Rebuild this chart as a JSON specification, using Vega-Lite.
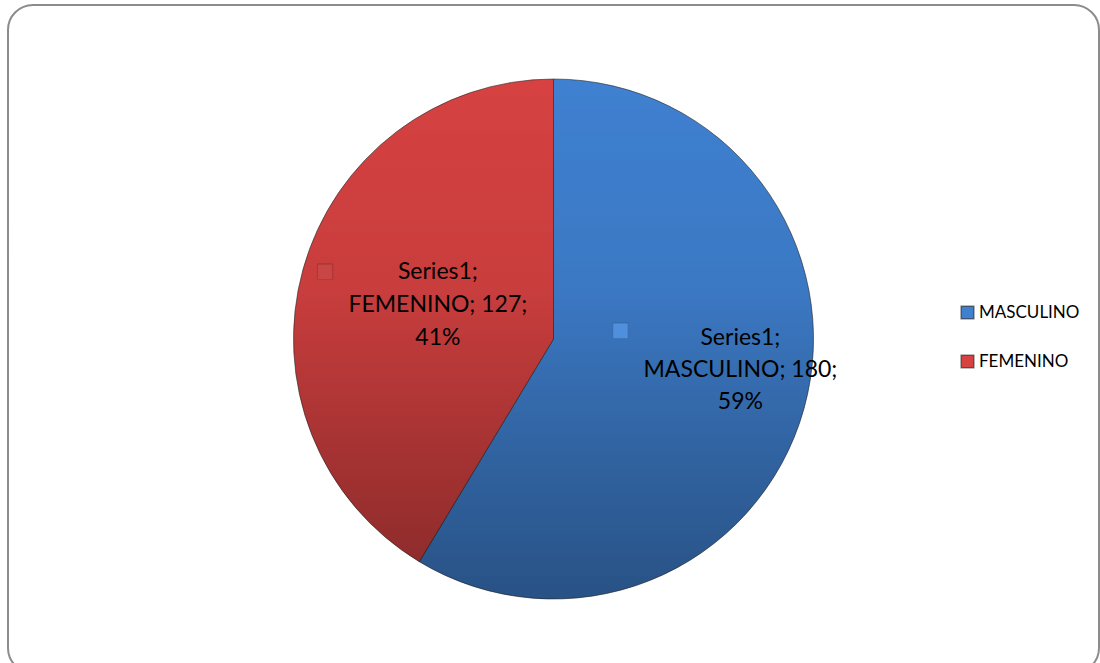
{
  "$schema": "https://vega.github.io/schema/vega-lite/v6.json",
  "autosize": {"type": "fit", "contains": "padding"},
  "width": 1100,
  "height": 673,
  "padding": {"left": 8, "top": 5, "right": 1, "bottom": 0},
  "background": "#ffffff",
  "view": {"stroke": "#8c8c8c", "strokeWidth": 2, "cornerRadius": 25, "fill": "#ffffff"},
  "config": {
    "view": {"stroke": "#8c8c8c", "strokeWidth": 2, "cornerRadius": 25},
    "font": "Lato"
  },
  "data": {
    "values": [
      {"series": "Series1", "gender": "MASCULINO", "value": 180, "label": ["Series1;", "MASCULINO; 180;", "59%"]},
      {"series": "Series1", "gender": "FEMENINO", "value": 127, "label": ["Series1;", "FEMENINO; 127;", "41%"]}
    ]
  },
  "layer": [
    {
      "mark": {"type": "arc", "outerRadius": 260, "stroke": "rgba(40,40,40,0.6)", "strokeWidth": 1},
      "encoding": {
        "theta": {"field": "value", "type": "quantitative", "stack": true},
        "order": {"field": "value", "type": "quantitative", "sort": "descending"},
        "color": {
          "field": "gender", "type": "nominal",
          "scale": {"domain": ["MASCULINO", "FEMENINO"], "range": ["#3f80d0", "#d64141"]},
          "legend": {
            "orient": "none", "legendX": 951, "legendY": 299, "title": null,
            "labelFont": "Lato", "labelFontSize": 17, "labelColor": "#000000",
            "symbolType": "square", "symbolSize": 160, "rowPadding": 30, "labelOffset": 3
          }
        }
      }
    },
    {
      "mark": {
        "type": "arc", "theta": 0, "theta2": 6.2832, "outerRadius": 260,
        "fill": {
          "gradient": "linear", "x1": 0, "y1": 0, "x2": 0, "y2": 1,
          "stops": [
            {"offset": 0, "color": "rgba(0,0,0,0)"},
            {"offset": 0.4, "color": "rgba(0,0,0,0.03)"},
            {"offset": 1, "color": "rgba(0,0,0,0.2)"}
          ]
        }
      },
      "encoding": {}
    },
    {
      "mark": {"type": "text", "radius": 194, "dy": -53, "fontSize": 23, "font": "Lato", "lineHeight": 32, "align": "center", "baseline": "middle", "color": "#000000"},
      "encoding": {
        "theta": {"field": "value", "type": "quantitative", "stack": true},
        "order": {"field": "value", "type": "quantitative", "sort": "descending"},
        "detail": {"field": "gender", "type": "nominal"},
        "text": {"field": "label"},
        "opacity": {"condition": {"test": "datum.gender === 'MASCULINO'", "value": 1}, "value": 0}
      }
    },
    {
      "mark": {"type": "text", "radius": 120, "dy": -35, "fontSize": 23, "font": "Lato", "lineHeight": 33, "align": "center", "baseline": "middle", "color": "#000000"},
      "encoding": {
        "theta": {"field": "value", "type": "quantitative", "stack": true},
        "order": {"field": "value", "type": "quantitative", "sort": "descending"},
        "detail": {"field": "gender", "type": "nominal"},
        "text": {"field": "label"},
        "opacity": {"condition": {"test": "datum.gender === 'FEMENINO'", "value": 1}, "value": 0}
      }
    },
    {
      "mark": {"type": "text", "radius": 194, "dx": -120, "dy": -61, "fontSize": 20, "font": "DejaVu Sans", "align": "center", "baseline": "middle", "color": "#4f8fdc", "stroke": "#2a558c", "strokeWidth": 0.4},
      "encoding": {
        "theta": {"field": "value", "type": "quantitative", "stack": true},
        "order": {"field": "value", "type": "quantitative", "sort": "descending"},
        "detail": {"field": "gender", "type": "nominal"},
        "text": {"value": "■"},
        "opacity": {"condition": {"test": "datum.gender === 'MASCULINO'", "value": 1}, "value": 0}
      }
    },
    {
      "mark": {"type": "text", "radius": 120, "dx": -113, "dy": -36, "fontSize": 20, "font": "DejaVu Sans", "align": "center", "baseline": "middle", "color": "#c84646", "stroke": "#7a2424", "strokeWidth": 0.4},
      "encoding": {
        "theta": {"field": "value", "type": "quantitative", "stack": true},
        "order": {"field": "value", "type": "quantitative", "sort": "descending"},
        "detail": {"field": "gender", "type": "nominal"},
        "text": {"value": "■"},
        "opacity": {"condition": {"test": "datum.gender === 'FEMENINO'", "value": 1}, "value": 0}
      }
    }
  ]
}
